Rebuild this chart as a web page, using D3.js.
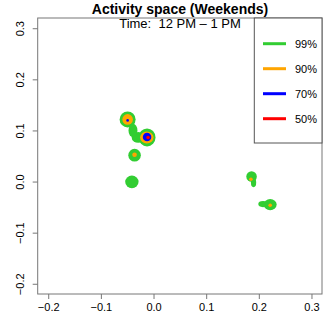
<!DOCTYPE html>
<html><head><meta charset="utf-8">
<script src="https://cdn.jsdelivr.net/npm/d3@7/dist/d3.min.js"></script>
<style>body{margin:0;background:#fff}svg{display:block}text{font-family:"Liberation Sans",Arial,sans-serif;white-space:pre}</style>
</head><body>
<script>
const title = "Activity space (Weekends)";
const subtitle = "Time:  12 PM \u2013 1 PM";
const xTicks = [-0.2, -0.1, 0.0, 0.1, 0.2, 0.3];
const yTicks = [-0.2, -0.1, 0.0, 0.1, 0.2, 0.3];
const levels = ["99%", "90%", "70%", "50%"];
const levelColors = ["#32CD32", "#FFA500", "#0000FF", "#FF0000"];
// contour regions per level: [level index, cx, cy, rx, ry]
const shapes99 = [
  [0, -0.0492, 0.1216, 0.0152, 0.0157],
  [0, -0.0123, 0.0863, 0.0161, 0.0176],
  [0, -0.0290, 0.0863, 0.0125, 0.0105],
  [0, -0.0390, 0.1000, 0.0085, 0.0130],
  [0, -0.0360, 0.0516, 0.0119, 0.0124],
  [0, -0.0411, -0.0006, 0.0127, 0.0124],
  [0, 0.1862, 0.0098, 0.0100, 0.0104],
  [0, 0.1900, -0.0020, 0.0050, 0.0090],
  [0, 0.2216, -0.0451, 0.0123, 0.0108],
  [0, 0.2080, -0.0441, 0.0090, 0.0060]
];
const shapes90 = [
  [1, -0.0492, 0.1216, 0.0100, 0.0104],
  [1, -0.0127, 0.0863, 0.0127, 0.0118],
  [1, -0.0360, 0.0524, 0.0044, 0.0045],
  [1, 0.1850, 0.0045, 0.0034, 0.0035],
  [1, 0.2216, -0.0465, 0.0034, 0.0035]
];
const shapes70 = [
  [2, -0.0123, 0.0873, 0.0081, 0.0084],
  [2, -0.0492, 0.1196, 0.0025, 0.0026]
];
const shapes50 = [
  [3, -0.0104, 0.0863, 0.0034, 0.0035]
];

const W = 332, H = 332;
const L = 37.7, R = 322, T = 18, B = 294;
const x = d3.scaleLinear().domain([-0.22, 0.32]).range([L, R]);
const y = d3.scaleLinear().domain([-0.22, 0.32]).range([B, T]);
const svg = d3.select("body").append("svg").attr("width", W).attr("height", H);

svg.append("clipPath").attr("id","c").append("rect")
  .attr("x", L).attr("y", T).attr("width", R - L).attr("height", B - T);
const g = svg.append("g").attr("clip-path","url(#c)");
[shapes99, shapes90, shapes70, shapes50].forEach(arr => {
  g.selectAll(null).data(arr).enter().append("ellipse")
    .attr("cx", d => x(d[1])).attr("cy", d => y(d[2]))
    .attr("rx", d => x(d[1] + d[3]) - x(d[1]))
    .attr("ry", d => y(d[2]) - y(d[2] + d[4]))
    .attr("fill", d => levelColors[d[0]]);
});

svg.append("rect").attr("x", L).attr("y", T).attr("width", R - L).attr("height", B - T)
  .attr("fill","none").attr("stroke","#777").attr("stroke-width",1);

const fmt = d => d3.format(".1f")(d).replace("-", "\u2212");
const xa = svg.append("g").attr("transform", `translate(0,${B})`)
  .call(d3.axisBottom(x).tickValues(xTicks).tickSize(5).tickPadding(4).tickFormat(fmt));
const ya = svg.append("g").attr("transform", `translate(${L},0)`)
  .call(d3.axisLeft(y).tickValues(yTicks).tickSize(5).tickPadding(4).tickFormat(fmt));
[xa, ya].forEach(a => {
  a.select(".domain").remove();
  a.selectAll("line").attr("stroke","#777");
  a.selectAll("text").attr("font-size", 11).attr("fill","#000")
    .attr("font-family",'"Liberation Sans",Arial,sans-serif');
});
ya.selectAll("text").attr("text-anchor","middle").attr("dy", 0).attr("x", 0)
  .attr("transform", `translate(-14,0) rotate(-90)`);

svg.append("text").attr("x", 180).attr("y", 14).attr("text-anchor","middle")
  .attr("font-size", 14).attr("font-weight","bold").text(title);
svg.append("text").attr("x", 180).attr("y", 28).attr("text-anchor","middle")
  .attr("font-size", 13).text(subtitle);

const lg = svg.append("g");
lg.append("rect").attr("x", 254.3).attr("y", T).attr("width", R - 254.3).attr("height", 143 - T)
  .attr("fill","#fff").attr("stroke","#555").attr("stroke-width",1);
const ly = d3.scalePoint().domain(levels).range([43.7, 118.7]);
levels.forEach((lv, i) => {
  lg.append("line").attr("x1", 263).attr("x2", 286).attr("y1", ly(lv)).attr("y2", ly(lv))
    .attr("stroke", levelColors[i]).attr("stroke-width", 3);
  lg.append("text").attr("x", 295).attr("y", ly(lv) + 4).attr("font-size", 11).text(lv);
});
</script>
</body></html>
